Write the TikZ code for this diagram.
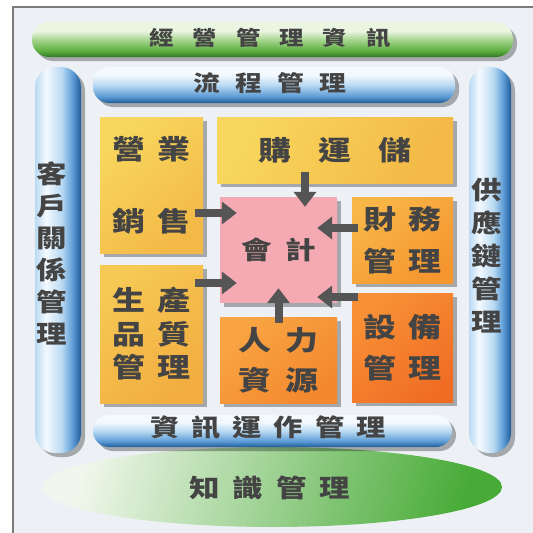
\documentclass[tikz,border=0pt]{standalone}
\usepackage{fontspec}
\newfontfamily\cjk{Noto Sans CJK TC}[FakeStretch=1.22]
\usetikzlibrary{shadows,arrows.meta,shapes.geometric}
\definecolor{bg}{HTML}{EDF1F6}
\definecolor{framec}{HTML}{7A7A7A}
\definecolor{tc}{HTML}{444444}
\definecolor{arrc}{HTML}{555555}
\definecolor{bd}{HTML}{1F5C99}
\definecolor{bm}{HTML}{5C9BD5}
\definecolor{bl}{HTML}{B9DAF3}
\definecolor{bw}{HTML}{F4F9FE}
\definecolor{gd}{HTML}{2E7A22}
\definecolor{gm}{HTML}{5DAE3F}
\definecolor{gmm}{HTML}{A8D690}
\definecolor{gl}{HTML}{EAF5E2}
\definecolor{yA1}{HTML}{F8D75E}
\definecolor{yA2}{HTML}{F3B946}
\definecolor{yD1}{HTML}{F6C854}
\definecolor{yD2}{HTML}{F2AE40}
\definecolor{oC1}{HTML}{F8B646}
\definecolor{oC2}{HTML}{F5962F}
\definecolor{oE1}{HTML}{F9A544}
\definecolor{oE2}{HTML}{F3882E}
\definecolor{oF1}{HTML}{F89136}
\definecolor{oF2}{HTML}{F06E24}
\definecolor{pk}{HTML}{F4A9B3}
\definecolor{el1}{HTML}{F1F7EC}
\definecolor{el2}{HTML}{74BE5B}
\definecolor{el3}{HTML}{48AB37}
\pgfdeclareverticalshading{hbarblue}{100bp}{color(0bp)=(bd); color(25bp)=(bd); color(34bp)=(bm); color(50bp)=(bl); color(64bp)=(bw); color(75bp)=(bw); color(100bp)=(bw)}
\pgfdeclarehorizontalshading{vbarblue}{100bp}{color(0bp)=(bl); color(25bp)=(bl); color(37bp)=(bw); color(54bp)=(bl); color(66bp)=(bm); color(75bp)=(bd); color(100bp)=(bd)}
\pgfdeclareverticalshading{gbar}{100bp}{color(0bp)=(gd); color(25bp)=(gd); color(34bp)=(gm); color(50bp)=(gmm); color(62bp)=(gl); color(100bp)=(gl)}
\newcommand\cg[1]{\hspace{#1pt}}
\tikzset{
  shad/.style={drop shadow={shadow xshift=4pt,shadow yshift=-4pt,fill=black,opacity=0.3}},
  hbar/.style={rectangle, rounded corners=16pt, shading=hbarblue, shad, inner sep=0pt},
  vbar/.style={rectangle, rounded corners=20pt, shading=vbarblue, shad, inner sep=0pt},
  gbar/.style={rectangle, rounded corners=17pt, shading=gbar, shad, inner sep=0pt},
  bx/.style={rectangle, inner sep=0pt, shad, text=tc, align=center},
  txt/.style={text=tc, inner sep=0pt, align=center},
  arr/.style={draw=arrc, line width=8pt, -{Triangle[length=15pt,width=22pt]}},
}
\begin{document}
\begin{tikzpicture}[x=1pt,y=-1pt]
\useasboundingbox (0,0) rectangle (533,533);
\fill[white] (0,0) rectangle (533,533);
\fill[bg] (13,7) rectangle (533,533);
\draw[framec, line width=1.5pt] (13,533) -- (13,7) -- (533,7);

% knowledge ellipse
\node[ellipse, inner sep=0pt, minimum width=459pt, minimum height=80pt,
      left color=el1, middle color=el2, right color=el3, shading angle=75] (K) at (272.5,487) {};
\node[txt, font=\cjk\bfseries\fontsize{25}{30}\selectfont] (Kt) at (270,488) {知\cg{13}識\cg{13}管\cg{13}理};

% top green bar
\node[gbar, minimum width=481pt, minimum height=35pt] (G) at (272.5,39.5) {};
\node[txt, font=\cjk\bfseries\fontsize{20}{24}\selectfont] (Gt) at (270,38) {經\cg{19}營\cg{19}管\cg{19}理\cg{19}資\cg{19}訊};

% vertical bars
\node[vbar, minimum width=46pt, minimum height=386pt] (L) at (58,260) {};
\node[txt, font=\cjk\bfseries\fontsize{25}{32}\selectfont] (Lt) at (52,253) {客\\戶\\關\\係\\管\\理};
\node[vbar, minimum width=42pt, minimum height=386pt] (R) at (490,260) {};
\node[txt, font=\cjk\bfseries\fontsize{25}{33}\selectfont] (Rt) at (487,256) {供\\應\\鏈\\管\\理};

% horizontal blue bars
\node[hbar, minimum width=362pt, minimum height=36pt] (T) at (274,85) {};
\node[txt, font=\cjk\bfseries\fontsize{22}{26}\selectfont] (Tt) at (270,83) {流\cg{15}程\cg{15}管\cg{15}理};
\node[hbar, minimum width=359pt, minimum height=32pt] (Bt) at (272.5,431) {};
\node[txt, font=\cjk\bfseries\fontsize{24}{28}\selectfont] (Btt) at (268,428) {資\cg{12}訊\cg{12}運\cg{12}作\cg{12}管\cg{12}理};

% boxes
\node[bx, minimum width=103pt, minimum height=136pt, top color=yA1, bottom color=yA2, shading angle=40,
      font=\cjk\bfseries\fontsize{27}{72}\selectfont] (A) at (151.5,185) {營\cg{12}業\\銷\cg{12}售};
\node[bx, minimum width=236pt, minimum height=66pt, top color=yA1, bottom color=yA2, shading angle=60,
      font=\cjk\bfseries\fontsize{27}{32}\selectfont] (B) at (335,150) {購\cg{27}運\cg{27}儲};
\node[bx, minimum width=117pt, minimum height=106pt, fill=pk,
      font=\cjk\bfseries\fontsize{25}{30}\selectfont] (P) at (278.5,250) {會\cg{14}計};
\node[bx, minimum width=101pt, minimum height=86pt, top color=oC1, bottom color=oC2, shading angle=40,
      font=\cjk\bfseries\fontsize{27}{42}\selectfont] (C) at (402.5,240) {財\cg{13}務\\管\cg{13}理};
\node[bx, minimum width=103pt, minimum height=138pt, top color=yD1, bottom color=yD2, shading angle=40,
      font=\cjk\bfseries\fontsize{27}{33.5}\selectfont] (D) at (151.5,334) {生\cg{12}產\\品\cg{12}質\\管\cg{12}理};
\node[bx, minimum width=117pt, minimum height=86pt, top color=oE1, bottom color=oE2, shading angle=40,
      font=\cjk\bfseries\fontsize{27}{40}\selectfont] (E) at (278.5,360) {人\cg{14}力\\資\cg{14}源};
\node[bx, minimum width=101pt, minimum height=109pt, top color=oF1, bottom color=oF2, shading angle=40,
      font=\cjk\bfseries\fontsize{27}{41}\selectfont] (F) at (402.5,347.5) {設\cg{13}備\\管\cg{13}理};

% arrows into accounting
\draw[arr] ([shift={(-8,28)}]A.east) -- ([shift={(17,-37)}]P.west);
\draw[arr] ([shift={(-8,-51)}]D.east) -- ([shift={(17,33)}]P.west);
\draw[arr] ([shift={(-30,-11)}]B.south) -- ([shift={(26.5,10)}]P.north);
\draw[arr] ([shift={(6,-12)}]C.west) -- ([shift={(-20,-22)}]P.east);
\draw[arr] ([shift={(6,-50.5)}]F.west) -- ([shift={(-20,47)}]P.east);
\draw[arr] ([shift={(0,6)}]E.north) -- ([shift={(0,-15)}]P.south);
\end{tikzpicture}
\end{document}
